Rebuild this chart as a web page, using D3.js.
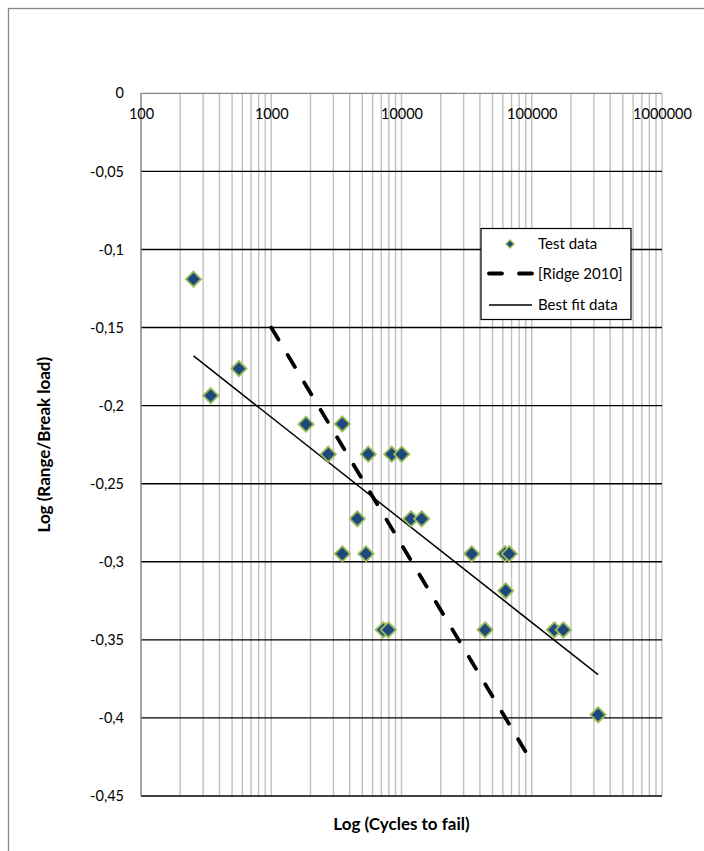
<!DOCTYPE html>
<html>
<head>
<meta charset="utf-8">
<script src="https://cdn.jsdelivr.net/npm/d3@7/dist/d3.min.js"></script>
<style>
  html, body { margin: 0; padding: 0; background: #fff; }
  svg { display: block; font-family: Lato, "Open Sans", sans-serif; }
</style>
</head>
<body>
<svg id="chart" width="704" height="851"></svg>
<script>
// ---- Data ----
const testCycles = [253, 343, 565, 1849, 3513, 2742, 5559, 8410, 10040, 4579, 11830, 14290,
                    3513, 5337, 34600, 62300, 67200, 63100, 7250, 7920, 43800, 149000, 174700, 323000];
const testLoad   = [-0.119, -0.1936, -0.1763, -0.2119, -0.2117, -0.2311, -0.2311, -0.2311, -0.2311, -0.2725, -0.2725, -0.2725,
                    -0.2949, -0.2949, -0.2949, -0.2949, -0.2949, -0.3186, -0.3436, -0.3436, -0.3436, -0.3436, -0.3436, -0.398];
const ridgeCycles = [1000, 95000];
const ridgeLoad   = [-0.15, -0.425];
const fitCycles   = [253, 323000];
const fitLoad     = [-0.1682, -0.3723];
const xTickValues = [100, 1000, 10000, 100000, 1000000];
const xTickLabels = ["100", "1000", "10000", "100000", "1000000"];
const yTickValues = [0, -0.05, -0.1, -0.15, -0.2, -0.25, -0.3, -0.35, -0.4, -0.45];
const yTickLabels = ["0", "-0,05", "-0,1", "-0,15", "-0,2", "-0,25", "-0,3", "-0,35", "-0,4", "-0,45"];
const legendLabels = ["Test data", "[Ridge 2010]", "Best fit data"];

// ---- Layout ----
const svg = d3.select("#chart");
const L = 141, R = 662, T = 93.3, B = 796;
const x = d3.scaleLog().domain([100, 1000000]).range([L, R]);
const y = d3.scaleLinear().domain([0, -0.45]).range([T, B]);

// outer chart border (only top & left visible)
svg.append("rect").attr("x", 8.5).attr("y", 8.5).attr("width", 760).attr("height", 900)
  .attr("fill", "none").attr("stroke", "#878787").attr("stroke-width", 1.3);

// vertical gridlines (major + minor)
const vgrid = [];
for (let d = 100; d < 1000000; d *= 10) for (let k = 1; k < 10; k++) vgrid.push(d * k);
vgrid.push(1000000);
svg.append("g").selectAll("line").data(vgrid).join("line")
  .attr("x1", d => x(d)).attr("x2", d => x(d)).attr("y1", T).attr("y2", B)
  .attr("stroke", "#c0c0c0").attr("stroke-width", 1.4);

// horizontal gridlines (black)
svg.append("g").selectAll("line").data(yTickValues.filter(v => v !== 0)).join("line")
  .attr("x1", L).attr("x2", R).attr("y1", d => y(d)).attr("y2", d => y(d))
  .attr("stroke", "#000").attr("stroke-width", 1.4);

// axis lines (gray): top x-axis at y=0, left y-axis
svg.append("line").attr("x1", L).attr("x2", R).attr("y1", y(0)).attr("y2", y(0))
  .attr("stroke", "#888").attr("stroke-width", 1.3);
svg.append("line").attr("x1", L).attr("x2", L).attr("y1", T).attr("y2", B)
  .attr("stroke", "#888").attr("stroke-width", 1.3);

// axes labels via d3 axes
const xAxis = d3.axisTop(x).tickValues(xTickValues)
  .tickFormat((d, i) => xTickLabels[i]).tickSize(0).tickPadding(0);
const gx = svg.append("g").attr("transform", `translate(0,${y(0)})`).call(xAxis);
gx.select(".domain").remove();
gx.selectAll("text").attr("font-family", "Lato, 'Open Sans', sans-serif").attr("font-size", 14.5)
  .attr("fill", "#000").attr("y", 21).attr("dy", "0.32em");

const yAxis = d3.axisLeft(y).tickValues(yTickValues)
  .tickFormat((d, i) => yTickLabels[i]).tickSize(0).tickPadding(17);
const gy = svg.append("g").attr("transform", `translate(${L},0)`).call(yAxis);
gy.select(".domain").remove();
gy.selectAll("text").attr("font-family", "Lato, 'Open Sans', sans-serif").attr("font-size", 14.5)
  .attr("fill", "#000");

// Best fit line
const line = d3.line().x(d => x(d[0])).y(d => y(d[1]));
svg.append("path").datum(d3.zip(fitCycles, fitLoad)).attr("d", line)
  .attr("fill", "none").attr("stroke", "#000").attr("stroke-width", 1.5);

// Ridge dashed line
svg.append("path").datum(d3.zip(ridgeCycles, ridgeLoad)).attr("d", line)
  .attr("fill", "none").attr("stroke", "#000").attr("stroke-width", 3.8)
  .attr("stroke-dasharray", "14,18").attr("stroke-linecap", "round");

// Test data markers
const diamond = s => `M0,${-s}L${s},0L0,${s}L${-s},0Z`;
svg.append("g").selectAll("path").data(d3.zip(testCycles, testLoad)).join("path")
  .attr("transform", d => `translate(${x(d[0])},${y(d[1])})`)
  .attr("d", diamond(7.6))
  .attr("fill", "#1F497D").attr("stroke", "#9BBB59").attr("stroke-width", 1.8);

// Legend
const lg = svg.append("g");
lg.append("rect").attr("x", 481).attr("y", 228.5).attr("width", 150).attr("height", 91)
  .attr("fill", "#fff").attr("stroke", "#000").attr("stroke-width", 1.2);
const rows = [244, 273.5, 305];
lg.append("path").attr("transform", `translate(510,${rows[0]})`).attr("d", diamond(4))
  .attr("fill", "#1F497D").attr("stroke", "#9BBB59").attr("stroke-width", 1.3);
lg.append("line").attr("x1", 489).attr("x2", 532).attr("y1", rows[1]).attr("y2", rows[1])
  .attr("stroke", "#000").attr("stroke-width", 3.8).attr("stroke-dasharray", "13,17")
  .attr("stroke-linecap", "round");
lg.append("line").attr("x1", 489).attr("x2", 532).attr("y1", rows[2]).attr("y2", rows[2])
  .attr("stroke", "#000").attr("stroke-width", 1.5);
lg.selectAll("text.lt").data(legendLabels).join("text").attr("class", "lt")
  .attr("x", 538).attr("y", (d, i) => rows[i]).attr("dy", "0.35em")
  .attr("font-size", 15).attr("fill", "#000").text(d => d);

// Axis titles
svg.append("text").attr("x", (L + R) / 2).attr("y", 824).attr("dy", "0.35em")
  .attr("text-anchor", "middle").attr("font-weight", "bold").attr("font-size", 17)
  .text("Log (Cycles to fail)");
svg.append("text").attr("transform", `translate(44,${(T + B) / 2}) rotate(-90)`)
  .attr("dy", "0.35em").attr("text-anchor", "middle").attr("font-weight", "bold").attr("font-size", 17)
  .text("Log (Range/Break load)");
</script>
</body>
</html>
